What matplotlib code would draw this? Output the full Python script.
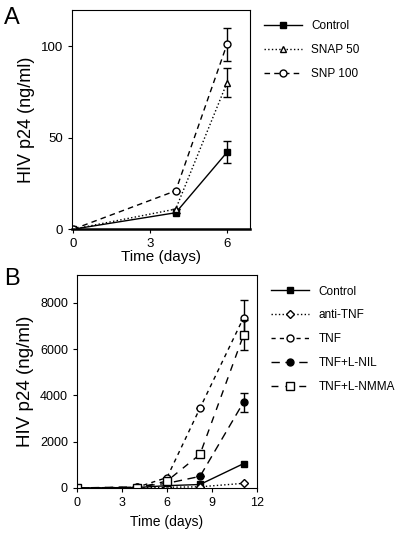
import matplotlib
matplotlib.use("Agg")
import matplotlib.pyplot as plt

plt.rcParams['font.family'] = ['Liberation Sans', 'DejaVu Sans']

# Panel A data
days_a = [0, 4, 6]
control_a = [0, 9, 42]
snap50 = [0, 11, 80]
snp100 = [0, 21, 101]
err_control_a = [0, 0, 6]
err_snap50 = [0, 0, 8]
err_snp100 = [0, 0, 9]

# Panel B data
days_b = [0, 4, 6, 8.2, 11.1]
control_b = [0, 20, 100, 150, 1050]
anti_tnf = [0, 10, 30, 50, 200]
tnf = [0, 30, 450, 3450, 7350]
tnf_lnil = [0, 50, 200, 500, 3700]
tnf_lnmma = [0, 0, 300, 1450, 6600]
err_tnf = [0, 0, 0, 0, 750]
err_lnil = [0, 0, 0, 0, 400]
err_lnmma = [0, 0, 0, 0, 650]


def draw(ax, x, y, err, ls, marker, ms, mfc, label):
    if err is not None:
        ax.errorbar(x, y, yerr=err, fmt='none', ecolor='black', elinewidth=1, capsize=3)
    ax.plot(x, y, color='black', lw=1, ls=ls, marker=marker, ms=ms,
            mfc=mfc, mec='black', label=label)


fig = plt.figure(figsize=(4, 5.38), dpi=100)

# Graph A
ax1 = fig.add_axes([0.18, 0.574, 0.445, 0.408])
draw(ax1, days_a, control_a, err_control_a, '-', 's', 5, 'black', 'Control')
draw(ax1, days_a, snap50, err_snap50, ':', '^', 5, 'white', 'SNAP 50')
draw(ax1, days_a, snp100, err_snp100, (0, (4, 3)), 'o', 5, 'white', 'SNP 100')
ax1.set_xlim(-0.05, 6.9)
ax1.set_ylim(0, 120)
ax1.set_xticks([0, 3, 6])
ax1.set_yticks([0, 50, 100])
ax1.set_xlabel("Time (days)", fontsize=11, labelpad=0)
ax1.set_ylabel("HIV p24 (ng/ml)", fontsize=13)
ax1.spines['bottom'].set_linewidth(1.8)
ax1.tick_params(labelsize=9.5, direction='out', length=3)
ax1.legend(loc='upper left', bbox_to_anchor=(1.02, 1.0), frameon=False,
           fontsize=8.5, handlelength=3.2, labelspacing=1.0)
fig.text(0.01, 0.955, "A", fontsize=17)

# Graph B
ax2 = fig.add_axes([0.1925, 0.093, 0.45, 0.396])
draw(ax2, days_b, control_b, None, '-', 's', 5, 'black', 'Control')
draw(ax2, days_b, anti_tnf, None, ':', 'D', 4, 'white', 'anti-TNF')
draw(ax2, days_b, tnf, err_tnf, (0, (3, 3)), 'o', 5, 'white', 'TNF')
draw(ax2, days_b, tnf_lnil, err_lnil, (0, (6, 4)), 'o', 5, 'black', 'TNF+L-NIL')
draw(ax2, days_b, tnf_lnmma, err_lnmma, (0, (5, 5)), 's', 6, 'white', 'TNF+L-NMMA')
ax2.set_xlim(0, 12)
ax2.set_ylim(0, 9200)
ax2.set_xticks([0, 3, 6, 9, 12])
ax2.set_yticks([0, 2000, 4000, 6000, 8000])
ax2.set_xlabel("Time (days)", fontsize=10)
ax2.set_ylabel("HIV p24 (ng/ml)", fontsize=13.5)
ax2.tick_params(labelsize=9, direction='out', length=3)
ax2.legend(loc='upper left', bbox_to_anchor=(1.02, 1.0), frameon=False,
           fontsize=8.5, handlelength=3.2, labelspacing=1.0)
fig.text(0.01, 0.47, "B", fontsize=17)

plt.savefig("out.png", dpi=100)
